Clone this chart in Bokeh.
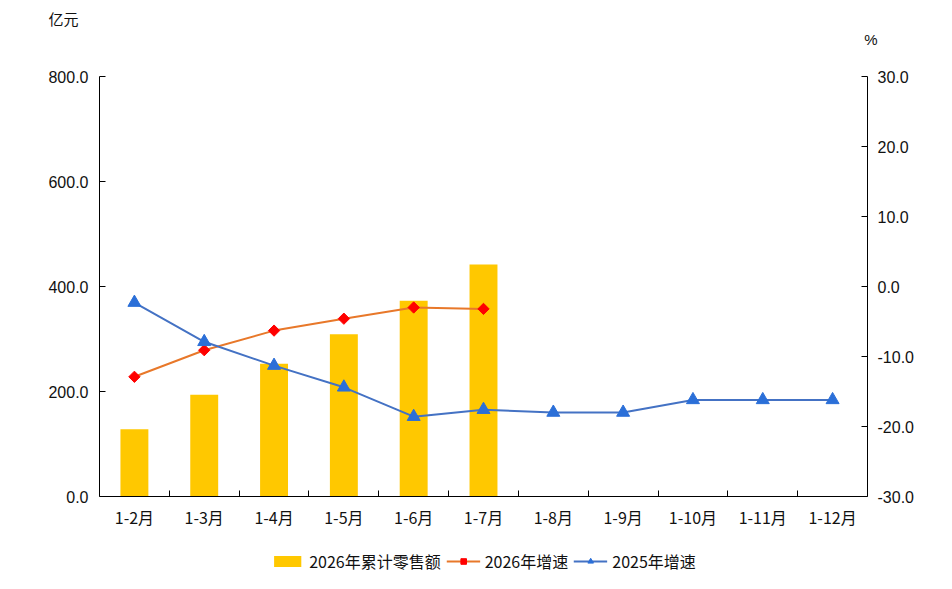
import math
from bokeh.plotting import figure
from bokeh.layouts import column
from bokeh.models import (Range1d, LinearAxis, FixedTicker, NumeralTickFormatter,
                          Legend, LegendItem, Title)
from bokeh.embed import file_html
from bokeh.resources import INLINE

# data
months = ["1-2月", "1-3月", "1-4月", "1-5月", "1-6月", "1-7月",
          "1-8月", "1-9月", "1-10月", "1-11月", "1-12月"]
sales_2026 = [128, 194, 253, 309, 373, 442]          # 亿元
growth_2026 = [-12.9, -9.1, -6.3, -4.6, -3.0, -3.2]  # %
growth_2025 = [-2.3, -7.9, -11.3, -14.4, -18.6, -17.6,
               -18.0, -18.0, -16.2, -16.2, -16.2]    # %
left_ticks = [0, 200, 400, 600, 800]
right_ticks = [-30, -20, -10, 0, 10, 20, 30]
series_names = ["2026年累计零售额", "2026年增速", "2025年增速"]

NUM_FONT = "Liberation Sans"
CJK_FONT = "Noto Sans CJK SC"
TEXT_COLOR = "#111111"
BAR_COLOR = "#FFC800"
LINE26, MARK26 = "#E8782A", "#FF0000"
LINE25, MARK25 = "#4472C4", "#2B6FD8"

xs = [i + 0.5 for i in range(len(months))]


def draw_series(fig, pct_range=None):
    """bars on the left scale, the two growth lines on the right one"""
    kw = {"y_range_name": pct_range} if pct_range else {}
    bar = fig.vbar(x=xs[:len(sales_2026)], top=sales_2026, width=0.4,
                   fill_color=BAR_COLOR, line_color=None)
    l26 = fig.line(xs[:len(growth_2026)], growth_2026, line_color=LINE26,
                   line_width=2, **kw)
    m26 = fig.scatter(xs[:len(growth_2026)], growth_2026, marker="square", size=8,
                      angle=math.pi / 4, fill_color=MARK26, line_color=MARK26, **kw)
    l25 = fig.line(xs, growth_2025, line_color=LINE25, line_width=2, **kw)
    m25 = fig.scatter(xs, growth_2025, marker="triangle", size=13,
                      fill_color=MARK25, line_color=MARK25, **kw)
    return [[bar], [l26, m26], [l25, m25]]


p = figure(frame_width=768, frame_height=420,
           min_border_left=99, min_border_right=77, min_border_top=76,
           min_border_bottom=40,
           x_range=Range1d(0, len(months)), y_range=Range1d(0, 800),
           output_backend="svg", toolbar_location=None)
p.extra_y_ranges = {"pct": Range1d(-30, 30)}
p.outline_line_color = None
p.xgrid.grid_line_color = None
p.ygrid.grid_line_color = None

# x axis: labels at category centres, ticks at the boundaries
xa = p.xaxis[0]
xa.ticker = FixedTicker(ticks=xs, minor_ticks=list(range(1, len(months))))
xa.major_label_overrides = {x: m for x, m in zip(xs, months)}
xa.major_tick_line_color = None
xa.minor_tick_in = 6
xa.minor_tick_out = 0
xa.minor_tick_line_color = "black"
xa.axis_line_color = "black"
xa.major_label_text_font = CJK_FONT
xa.major_label_text_font_size = "16px"
xa.major_label_text_color = TEXT_COLOR
xa.major_label_standoff = 2

ya = p.yaxis[0]
ya.ticker = FixedTicker(ticks=left_ticks)
ya.formatter = NumeralTickFormatter(format="0.0")
ya.major_tick_in = 6
ya.major_tick_out = 0
ya.minor_tick_line_color = None
ya.axis_line_color = "black"
ya.major_label_text_font = NUM_FONT
ya.major_label_text_font_size = "16px"
ya.major_label_text_color = TEXT_COLOR
ya.major_label_standoff = 11

ra = LinearAxis(y_range_name="pct", ticker=FixedTicker(ticks=right_ticks),
                formatter=NumeralTickFormatter(format="0.0"))
ra.major_tick_in = 6
ra.major_tick_out = 0
ra.minor_tick_line_color = None
ra.axis_line_color = "black"
ra.major_label_text_font = NUM_FONT
ra.major_label_text_font_size = "16px"
ra.major_label_text_color = TEXT_COLOR
ra.major_label_standoff = 10
p.add_layout(ra, "right")

draw_series(p, "pct")

# unit labels above the two value axes (a blank title keeps them off the frame)
p.add_layout(Title(text=" ", standoff=10, text_font=NUM_FONT,
                   text_font_size="15px"), "above")
p.add_layout(Title(text="%", align="right", offset=-10, standoff=0,
                   text_font=NUM_FONT, text_font_size="15px",
                   text_font_style="normal", text_color=TEXT_COLOR), "above")
p.add_layout(Title(text="亿元", align="left", offset=-51, standoff=0,
                   text_font=CJK_FONT, text_font_size="15px",
                   text_font_style="normal", text_color=TEXT_COLOR), "above")

# legend strip under the chart; its renderers lie far below its own view
foot = figure(width=944, height=50, min_border_left=99, min_border_right=77,
              min_border_top=0, min_border_bottom=0,
              x_range=Range1d(0, len(months)), y_range=Range1d(2000, 2001),
              x_axis_type=None, y_axis_type=None,
              output_backend="svg", toolbar_location=None)
foot.outline_line_color = None
foot.grid.grid_line_color = None
key_renderers = draw_series(foot)

legend = Legend(items=[LegendItem(label=name, renderers=rs)
                       for name, rs in zip(series_names, key_renderers)],
                orientation="horizontal", location="center",
                glyph_width=34, glyph_height=14, label_standoff=5, spacing=5,
                padding=0, margin=0, border_line_color=None, background_fill_alpha=0,
                label_text_font=CJK_FONT, label_text_font_size="16px",
                label_text_color=TEXT_COLOR)
foot.add_layout(legend, "center")

open("out.html", "w").write(file_html(column(p, foot, spacing=0), INLINE))
